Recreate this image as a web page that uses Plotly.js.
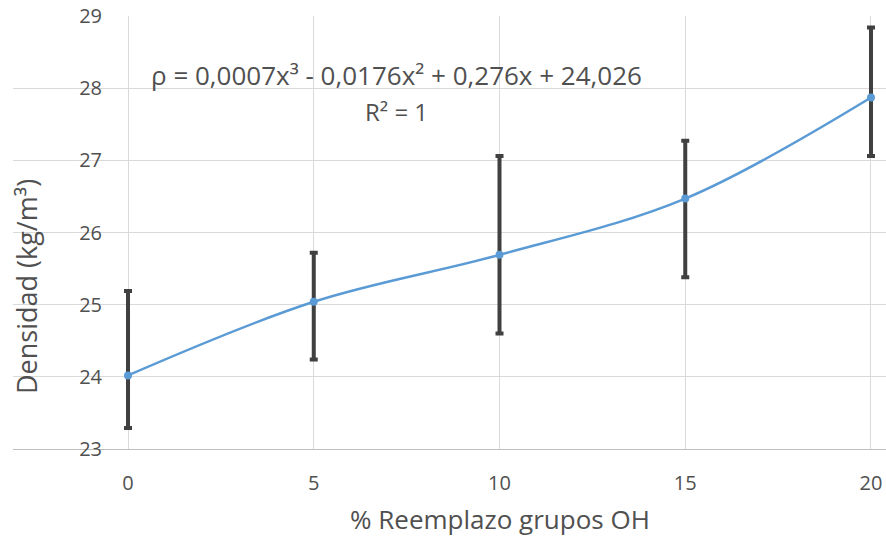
<!DOCTYPE html>
<html>
<head>
<meta charset="utf-8">
<script src="https://cdn.plot.ly/plotly-3.0.1.min.js"></script>
<style>html,body{margin:0;padding:0;background:#fff;}#chart{width:886px;height:539px;}</style>
</head>
<body>
<div id="chart"></div>
<script>
// Data
const reemplazo = [0, 5, 10, 15, 20];
const densidad = [24.02, 25.04, 25.69, 26.47, 27.87];
const limiteSuperior = [25.19, 25.72, 27.06, 27.27, 28.84];
const limiteInferior = [23.29, 24.24, 24.60, 25.38, 27.06];
const xTicks = [0, 5, 10, 15, 20];
const yTicks = [23, 24, 25, 26, 27, 28, 29];
const ecuacion = "ρ = 0,0007x³ - 0,0176x² + 0,276x + 24,026";
const r2 = "R² = 1";
const tituloX = "% Reemplazo grupos OH";
const tituloY = "Densidad (kg/m³)";

const errPlus = densidad.map((v, i) => +(limiteSuperior[i] - v).toFixed(3));
const errMinus = densidad.map((v, i) => +(v - limiteInferior[i]).toFixed(3));

const textColor = "#505050";
const font = "Open Sans, Noto Sans, sans-serif";

const trace = {
  x: reemplazo,
  y: densidad,
  type: "scatter",
  mode: "lines+markers",
  line: {color: "#5B9BD5", width: 2.5, shape: "spline", smoothing: 1},
  marker: {color: "#5B9BD5", size: 8},
  error_y: {
    type: "data",
    symmetric: false,
    array: errPlus,
    arrayminus: errMinus,
    color: "#404040",
    thickness: 4,
    width: 4
  },
  hoverinfo: "skip"
};

const layout = {
  width: 886,
  height: 539,
  margin: {l: 13, r: 0, t: 16, b: 90},
  paper_bgcolor: "#ffffff",
  plot_bgcolor: "#ffffff",
  showlegend: false,
  font: {family: font, color: textColor, size: 20},
  xaxis: {
    range: [-3.096, 20.404],
    tickmode: "array",
    tickvals: xTicks,
    ticktext: xTicks.map(String),
    showgrid: true,
    gridcolor: "#d9d9d9",
    gridwidth: 1,
    zeroline: false,
    showline: true,
    linecolor: "#bfbfbf",
    linewidth: 1,
    ticks: "outside",
    ticklen: 16,
    tickcolor: "rgba(0,0,0,0)",
    tickfont: {size: 20, color: textColor, family: font},
    fixedrange: true
  },
  yaxis: {
    range: [23, 29],
    tickmode: "array",
    tickvals: yTicks,
    ticktext: yTicks.map(String),
    anchor: "free",
    position: 115 / 873,
    showgrid: true,
    gridcolor: "#d9d9d9",
    gridwidth: 1,
    zeroline: false,
    showline: false,
    ticks: "outside",
    ticklen: 22,
    tickcolor: "rgba(0,0,0,0)",
    tickfont: {size: 20, color: textColor, family: font},
    fixedrange: true
  },
  annotations: [
    {text: ecuacion, xref: "paper", yref: "paper", x: (396 - 13) / 873, y: (449 - 75) / 433,
     xanchor: "center", yanchor: "middle", showarrow: false, font: {size: 26, color: textColor, family: font}},
    {text: r2, xref: "paper", yref: "paper", x: (396 - 13) / 873, y: (449 - 112) / 433,
     xanchor: "center", yanchor: "middle", showarrow: false, font: {size: 24, color: textColor, family: font}},
    {text: tituloX, xref: "x", yref: "paper", x: 10, y: (449 - 519) / 433,
     xanchor: "center", yanchor: "middle", showarrow: false, font: {size: 26, color: textColor, family: font}},
    {text: tituloY, xref: "paper", yref: "paper", x: (26 - 13) / 873, y: (449 - 287) / 433,
     xanchor: "center", yanchor: "middle", textangle: -90, showarrow: false, font: {size: 27, color: textColor, family: font}}
  ]
};

Plotly.newPlot("chart", [trace], layout, {staticPlot: true, displayModeBar: false});
</script>
</body>
</html>
